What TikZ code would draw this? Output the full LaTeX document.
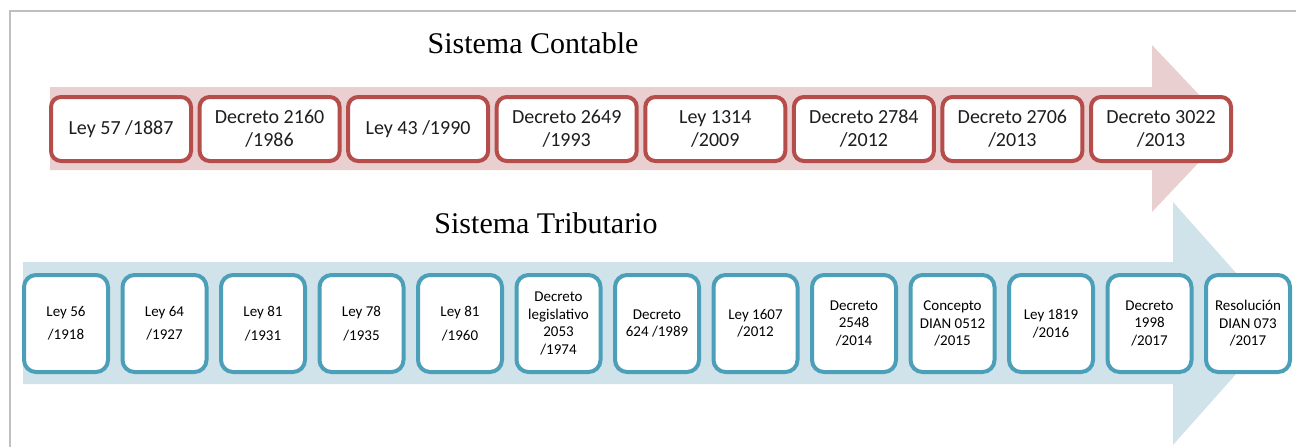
\documentclass[tikz,border=0pt]{standalone}
\usepackage{fontspec}
\setmainfont{Carlito}
\newfontfamily\titlefont{Liberation Serif}
\usepackage{tikz}
\definecolor{frameGray}{RGB}{191,191,191}
\definecolor{contLine}{RGB}{181,77,74}
\definecolor{contFill}{RGB}{233,207,207}
\definecolor{tribLine}{RGB}{75,159,184}
\definecolor{tribFill}{RGB}{209,227,234}
\definecolor{textGray}{RGB}{30,30,30}

\begin{document}
\begin{tikzpicture}[x=1pt,y=-1pt,
    contbox/.style={draw=contLine, line width=4pt, fill=white, rounded corners=10pt,
        minimum width=140pt, minimum height=64pt, inner sep=0pt, align=center,
        text=textGray, font=\fontsize{20}{23}\selectfont},
    tribbox/.style={draw=tribLine, line width=4pt, fill=white, rounded corners=12pt,
        minimum width=84pt, minimum height=97pt, inner sep=0pt, align=center,
        text=black, font=\fontsize{15}{17.5}\selectfont},
    sectitle/.style={anchor=base, inner sep=0pt, font=\titlefont\fontsize{30}{30}\selectfont}]
    \useasboundingbox (0,0) rectangle (1296,447);
    \draw[frameGray, line width=2pt] (10,447) -- (10,11) -- (1296,11);

    \fill[contFill] (50,87) -- (1152,87) -- (1152,45) -- (1231,128.5) -- (1152,212) -- (1152,170) -- (50,170) -- cycle;
    \fill[tribFill] (23,262) -- (1173,262) -- (1173,202) -- (1281,323.5) -- (1173,445) -- (1173,384) -- (23,384) -- cycle;

    \node[sectitle] (ContTitle) at (533,53) {Sistema Contable};
    \node[sectitle] (TribTitle) at (546,233) {Sistema Tributario};

    \node[contbox] (CLey57) at (121,129) {Ley 57 /1887};
    \node[contbox] (CDec2160) at (269.6,129) {Decreto 2160\\/1986};
    \node[contbox] (CLey43) at (418.1,129) {Ley 43 /1990};
    \node[contbox] (CDec2649) at (566.7,129) {Decreto 2649\\/1993};
    \node[contbox] (CLey1314) at (715.3,129) {Ley 1314\\/2009};
    \node[contbox] (CDec2784) at (863.9,129) {Decreto 2784\\/2012};
    \node[contbox] (CDec2706) at (1012.4,129) {Decreto 2706\\/2013};
    \node[contbox] (CDec3022) at (1161,129) {Decreto 3022\\/2013};

    \node[tribbox] (TLey56) at (66,323.5) {Ley 56\\[6pt]/1918};
    \node[tribbox] (TLey64) at (164.5,323.5) {Ley 64\\[6pt]/1927};
    \node[tribbox] (TLey81a) at (263,323.5) {Ley 81\\[6pt]/1931};
    \node[tribbox] (TLey78) at (361.5,323.5) {Ley 78\\[6pt]/1935};
    \node[tribbox] (TLey81b) at (460,323.5) {Ley 81\\[6pt]/1960};
    \node[tribbox] (TDec2053) at (558.5,323.5) {Decreto\\legislativo\\2053\\/1974};
    \node[tribbox] (TDec624) at (657,323.5) {Decreto\\624 /1989};
    \node[tribbox] (TLey1607) at (755.5,323.5) {Ley 1607\\/2012};
    \node[tribbox] (TDec2548) at (854,323.5) {Decreto\\2548\\/2014};
    \node[tribbox] (TConc0512) at (952.5,323.5) {Concepto\\DIAN 0512\\/2015};
    \node[tribbox] (TLey1819) at (1051,323.5) {Ley 1819\\/2016};
    \node[tribbox] (TDec1998) at (1149.5,323.5) {Decreto\\1998\\/2017};
    \node[tribbox] (TRes073) at (1248,323.5) {Resolución\\DIAN 073\\/2017};
\end{tikzpicture}
\end{document}
